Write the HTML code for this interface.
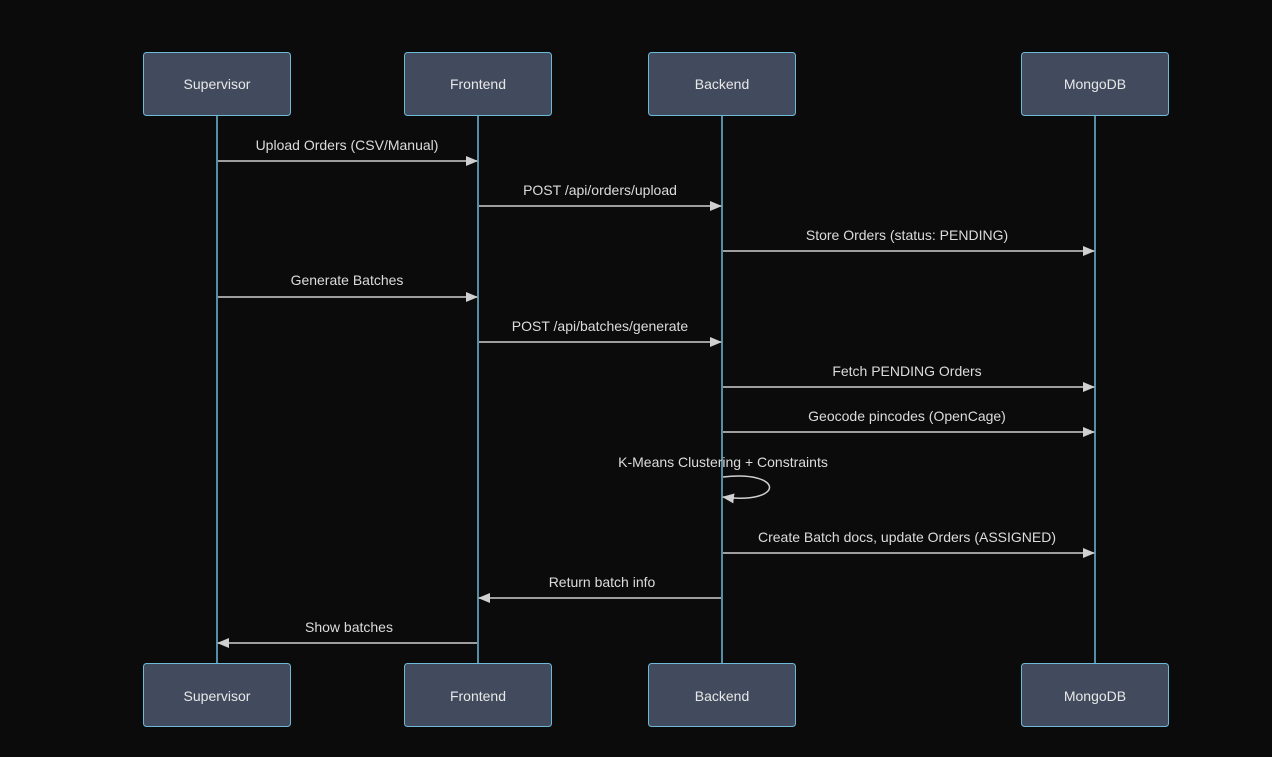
<!DOCTYPE html>
<html><head><style>
html,body{margin:0;padding:0;background:#0b0b0c;}
svg{display:block}
text{font-family:"Liberation Sans","DejaVu Sans",sans-serif;}
</style></head><body>
<svg width="1272" height="757" viewBox="0 0 1272 757" xmlns="http://www.w3.org/2000/svg">
<defs>
<marker id="a" viewBox="0 0 12 10" refX="11" refY="5" markerWidth="12" markerHeight="10" markerUnits="userSpaceOnUse" orient="auto"><path d="M0,0 L12,5 L0,10 z" fill="#d0d0d0"/></marker>
</defs>
<rect width="1272" height="757" fill="#0b0b0c"/>
<g stroke="#6cb9d8" stroke-width="1.5">
<line x1="217" y1="116" x2="217" y2="663"/>
<line x1="478" y1="116" x2="478" y2="663"/>
<line x1="722" y1="116" x2="722" y2="663"/>
<line x1="1095" y1="116" x2="1095" y2="663"/>
</g>
<g fill="#424b5d" stroke="#6cb9d8" stroke-width="1">
<rect x="143.5" y="52.5" width="147" height="63" rx="3"/>
<rect x="404.5" y="52.5" width="147" height="63" rx="3"/>
<rect x="648.5" y="52.5" width="147" height="63" rx="3"/>
<rect x="1021.5" y="52.5" width="147" height="63" rx="3"/>
<rect x="143.5" y="663.5" width="147" height="63" rx="3"/>
<rect x="404.5" y="663.5" width="147" height="63" rx="3"/>
<rect x="648.5" y="663.5" width="147" height="63" rx="3"/>
<rect x="1021.5" y="663.5" width="147" height="63" rx="3"/>
</g>
<g fill="#e8e8e8" font-size="14" text-anchor="middle">
<text x="217" y="89">Supervisor</text><text x="478" y="89">Frontend</text><text x="722" y="89">Backend</text><text x="1095" y="89">MongoDB</text>
<text x="217" y="701">Supervisor</text><text x="478" y="701">Frontend</text><text x="722" y="701">Backend</text><text x="1095" y="701">MongoDB</text>
</g>
<g stroke="#d0d0d0" stroke-width="1.5" fill="none" marker-end="url(#a)">
<line x1="218" y1="161" x2="477" y2="161"/>
<line x1="479" y1="206" x2="721" y2="206"/>
<line x1="723" y1="251" x2="1094" y2="251"/>
<line x1="218" y1="297" x2="477" y2="297"/>
<line x1="479" y1="342" x2="721" y2="342"/>
<line x1="723" y1="387" x2="1094" y2="387"/>
<line x1="723" y1="432" x2="1094" y2="432"/>
<path d="M723 477 C785 470,785 505,723 497"/>
<line x1="723" y1="553" x2="1094" y2="553"/>
<line x1="721" y1="598" x2="479" y2="598"/>
<line x1="477" y1="643" x2="218" y2="643"/>
</g>
<g fill="#dcdcdc" font-size="14" text-anchor="middle">
<text x="347" y="150">Upload Orders (CSV/Manual)</text>
<text x="600" y="195">POST /api/orders/upload</text>
<text x="907" y="240">Store Orders (status: PENDING)</text>
<text x="347" y="285">Generate Batches</text>
<text x="600" y="331">POST /api/batches/generate</text>
<text x="907" y="376">Fetch PENDING Orders</text>
<text x="907" y="421">Geocode pincodes (OpenCage)</text>
<text x="723" y="467">K-Means Clustering + Constraints</text>
<text x="907" y="542">Create Batch docs, update Orders (ASSIGNED)</text>
<text x="602" y="587">Return batch info</text>
<text x="349" y="632">Show batches</text>
</g>
</svg>
</body></html>
